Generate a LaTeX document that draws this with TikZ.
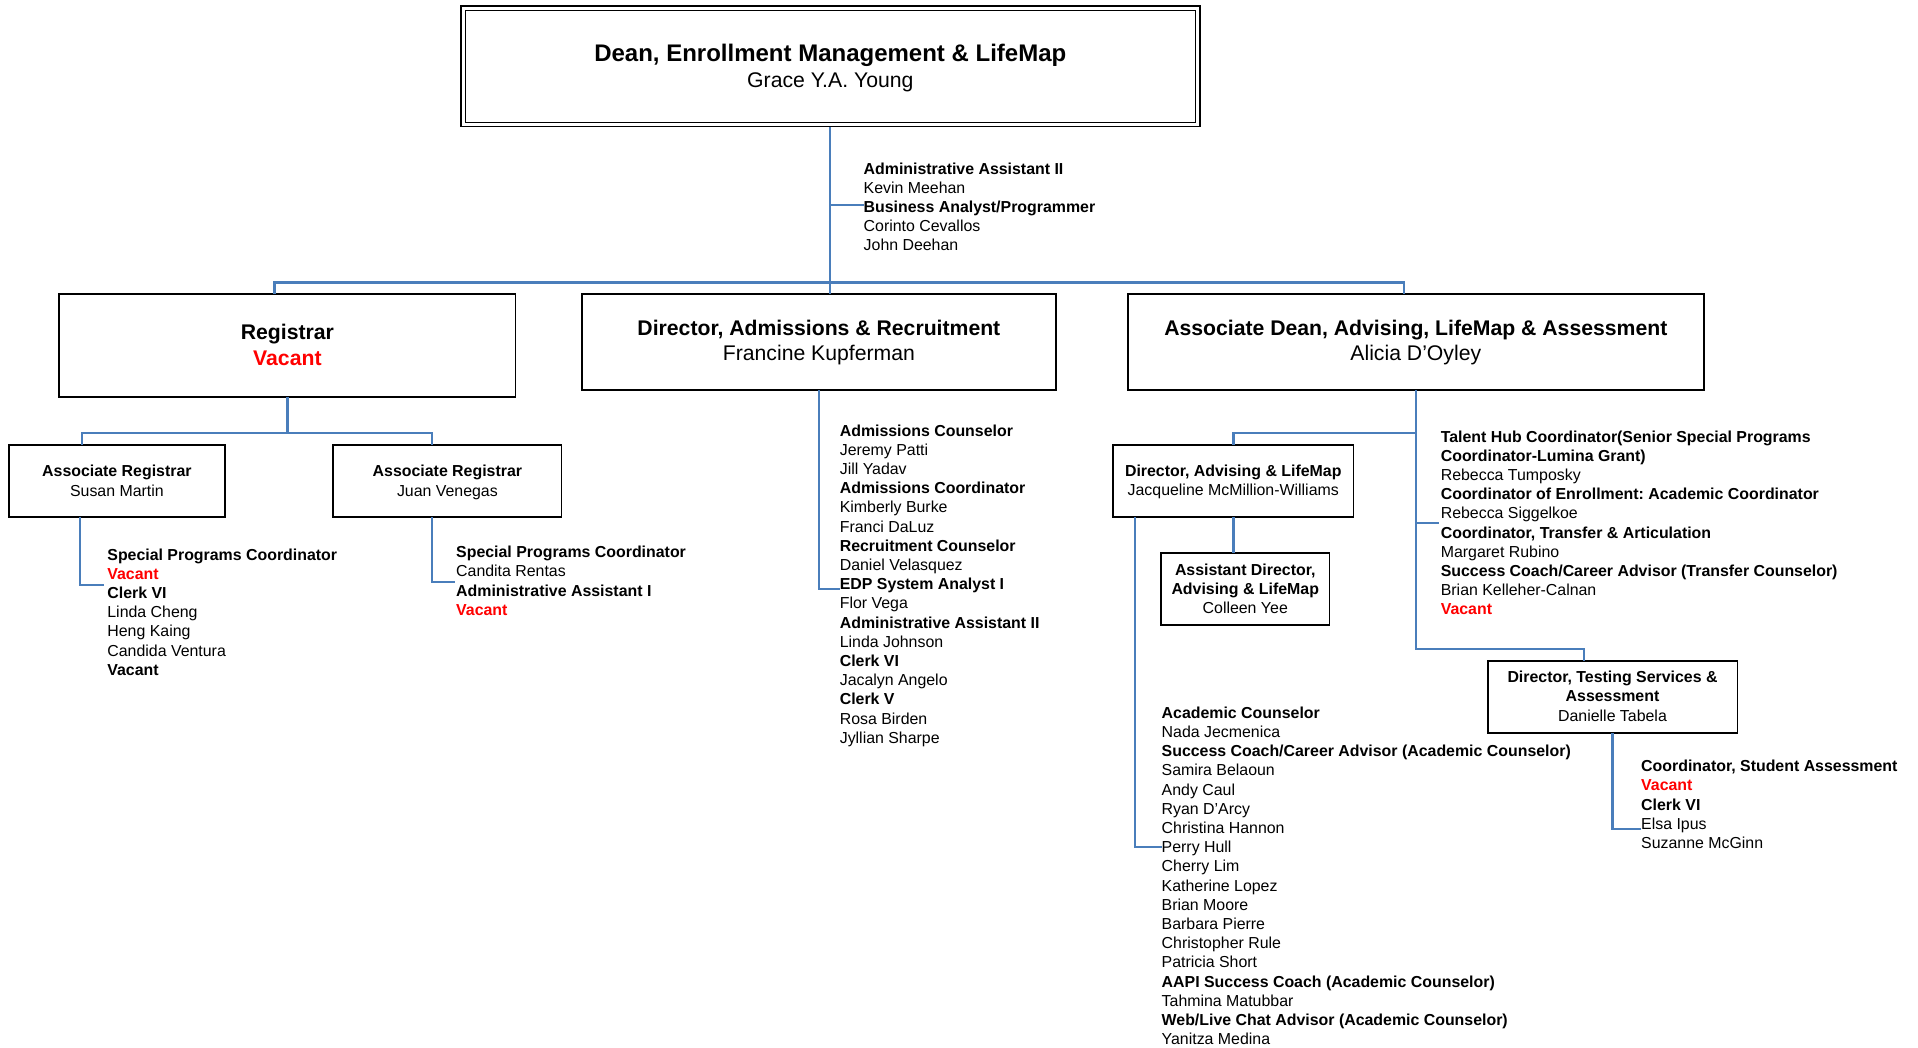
\documentclass[tikz,border=0pt]{standalone}
\usepackage{fontspec}
\setmainfont{Liberation Sans}
\frenchspacing
\definecolor{linkblue}{RGB}{74,126,187}
\definecolor{vacred}{RGB}{255,0,0}
\newcommand{\pos}[1]{\textbf{#1}}
\newcommand{\vacantpos}{\textcolor{vacred}{\textbf{Vacant}}}
\newcommand{\rowsof}[2]{\begin{tabular}[t]{@{}#1@{}}#2\end{tabular}}

\begin{document}
\begin{tikzpicture}[x=1pt,y=-1pt,
  conn/.style={draw=linkblue,line width=2.2pt},
  unit/.style={draw=black,line width=1.8pt,inner sep=0pt,outer sep=0pt},
  staff/.style={anchor=base west,inner sep=0pt,font=\fontsize{15.9}{19.2}\selectfont},
  big/.style={anchor=base,inner sep=0pt,font=\fontsize{21.2}{26}\selectfont},
  small/.style={anchor=base,inner sep=0pt,font=\fontsize{15.9}{19.2}\selectfont},
]
\fill[white] (0,0) rectangle (1918,1047);
\useasboundingbox (0,0) rectangle (1918,1047);

% ---------- unit boxes ----------
\node[unit,line width=1.6pt,minimum width=739.3pt,minimum height=120.5pt] (dean) at (830.35,66.25) {};
\node[unit,line width=1.6pt,minimum width=730pt,minimum height=112pt] (deanin) at (830.5,66.5) {};

\node[unit,minimum width=456.2pt,minimum height=103.3pt] (reg) at (287.4,345.65) {};
\node[unit,minimum width=473.6pt,minimum height=96pt] (dir) at (818.9,342) {};
\node[unit,minimum width=576.4pt,minimum height=96pt] (ad) at (1415.8,342) {};

\node[unit,minimum width=216.2pt,minimum height=72.3pt] (ar1) at (116.9,481.15) {};
\node[unit,minimum width=228.1pt,minimum height=72.3pt] (ar2) at (447.35,481.15) {};
\node[unit,minimum width=240.5pt,minimum height=72.3pt] (da) at (1233.25,481.15) {};
\node[unit,minimum width=168.5pt,minimum height=71.7pt] (asst) at (1245.25,589.15) {};
\node[unit,minimum width=249.9pt,minimum height=72.6pt] (ts) at (1612.55,697) {};

% ---------- connector points ----------
\coordinate (barL) at (274.4,282.5);
\coordinate (barR) at (1403.6,282.5);
\coordinate (deanstub) at (863.5,205);
\coordinate (rb1) at (82.3,433);
\coordinate (rb2) at (432,433);
\coordinate (s1) at (104,585);
\coordinate (s2) at (455.4,581.7);
\coordinate (s3) at (840,589.3);
\coordinate (dj) at (1233.5,433);
\coordinate (s4) at (1439,522.7);
\coordinate (tj) at (1584,649);
\coordinate (s5) at (1161.5,847.3);
\coordinate (s6) at (1641,829);

% ---------- connectors ----------
\draw[conn] (dean.south) -- (dean.south |- dir.north);
\draw[conn] (deanstub -| dean.south) -- (deanstub);
\draw[conn] (reg.north -| barL) -- (barL) -- (barR) -- (ad.north -| barR);

\draw[conn] (reg.south) -- (reg.south |- rb1);
\draw[conn] (ar1.north -| rb1) -- (rb1) -- (rb2) -- (ar2.north -| rb2);
\draw[conn] ([xshift=70.8pt]ar1.south west) |- (s1);
\draw[conn] ([xshift=98.7pt]ar2.south west) |- (s2);

\draw[conn] (dir.south) |- (s3);

\draw[conn] (ad.south) |- (tj) -- (ts.north -| tj);
\draw[conn] (dj -| ad.south) -- (dj) -- (da.north -| dj);
\draw[conn] (s4 -| ad.south) -- (s4);
\draw[conn] (da.south -| dj) -- (asst.north -| dj);
\draw[conn] ([xshift=22pt]da.south west) |- (s5);
\draw[conn] (ts.south) |- (s6);

% ---------- box texts ----------
\node[anchor=base,inner sep=0pt,font=\fontsize{24}{28}\selectfont\bfseries] (deanT) at (830.3,61) {Dean, Enrollment Management \& LifeMap};
\node[big] (deanN) at (830.3,87) {Grace Y.A. Young};

\node[big] (regT) at (287.4,339) {\textbf{Registrar}};
\node[big] (regN) at (287.4,365) {\vacantpos};

\node[big] (dirT) at (818.9,335) {\textbf{Director, Admissions \& Recruitment}};
\node[big] (dirN) at (818.9,360) {Francine Kupferman};

\node[big] (adT) at (1415.8,335) {\textbf{Associate Dean, Advising, LifeMap \& Assessment}};
\node[big] (adN) at (1415.8,360) {Alicia D’Oyley};

\node[small] (ar1T) at (116.9,476) {\rowsof{c}{\pos{Associate Registrar}\\[0.8pt] Susan Martin}};
\node[small] (ar2T) at (447.4,476) {\rowsof{c}{\pos{Associate Registrar}\\[0.8pt] Juan Venegas}};
\node[small] (daT) at (1233.25,476.7) {\rowsof{c}{\pos{Director, Advising \& LifeMap}\\ Jacqueline McMillion-Williams}};
\node[small] (asstT) at (1245.25,575.3) {\rowsof{c}{\pos{Assistant Director,}\\ \pos{Advising \& LifeMap}\\ Colleen Yee}};
\node[small] (tsT) at (1612.5,682.7) {\rowsof{c}{\pos{Director, Testing Services \&}\\ \pos{Assessment}\\ Danielle Tabela}};

% ---------- staff lists ----------
\node[staff] (deanL) at (863.5,174) {\rowsof{l}{%
\pos{Administrative Assistant II}\\ Kevin Meehan\\ \pos{Business Analyst/Programmer}\\
Corinto Cevallos\\ John Deehan}};

\node[staff] (ar1L) at (107.2,560) {\rowsof{l}{%
\pos{Special Programs Coordinator}\\ \vacantpos\\ \pos{Clerk VI}\\ Linda Cheng\\
Heng Kaing\\ Candida Ventura\\ \pos{Vacant}}};

\node[staff] (ar2L) at (456,557.7) {\rowsof{l}{%
\pos{Special Programs Coordinator}\\ Candita Rentas\\ \pos{Administrative Assistant I}\\ \vacantpos}};

\node[staff] (dirL) at (839.6,436) {\rowsof{l}{%
\pos{Admissions Counselor}\\ Jeremy Patti\\ Jill Yadav\\
\pos{Admissions Coordinator}\\ Kimberly Burke\\ Franci DaLuz\\
\pos{Recruitment Counselor}\\ Daniel Velasquez\\
\pos{EDP System Analyst I}\\ Flor Vega\\
\pos{Administrative Assistant II}\\ Linda Johnson\\
\pos{Clerk VI}\\ Jacalyn Angelo\\
\pos{Clerk V}\\ Rosa Birden\\ Jyllian Sharpe}};

\node[staff] (adL) at (1440.6,442) {\rowsof{l}{%
\pos{Talent Hub Coordinator(Senior Special Programs}\\ \pos{Coordinator-Lumina Grant)}\\ Rebecca Tumposky\\
\pos{Coordinator of Enrollment: Academic Coordinator}\\ Rebecca Siggelkoe\\
\pos{Coordinator, Transfer \& Articulation}\\ Margaret Rubino\\
\pos{Success Coach/Career Advisor (Transfer Counselor)}\\ Brian Kelleher-Calnan\\ \vacantpos}};

\node[staff] (daL) at (1161.5,718.3) {\rowsof{l}{%
\pos{Academic Counselor}\\ Nada Jecmenica\\
\pos{Success Coach/Career Advisor (Academic Counselor)}\\
Samira Belaoun\\ Andy Caul\\ Ryan D’Arcy\\ Christina Hannon\\ Perry Hull\\ Cherry Lim\\
Katherine Lopez\\ Brian Moore\\ Barbara Pierre\\ Christopher Rule\\ Patricia Short\\
\pos{AAPI Success Coach (Academic Counselor)}\\ Tahmina Matubbar\\
\pos{Web/Live Chat Advisor (Academic Counselor)}\\ Yanitza Medina}};

\node[staff] (tsL) at (1641,771.7) {\rowsof{l}{%
\pos{Coordinator, Student Assessment}\\ \vacantpos\\ \pos{Clerk VI}\\ Elsa Ipus\\ Suzanne McGinn}};
\end{tikzpicture}
\end{document}
